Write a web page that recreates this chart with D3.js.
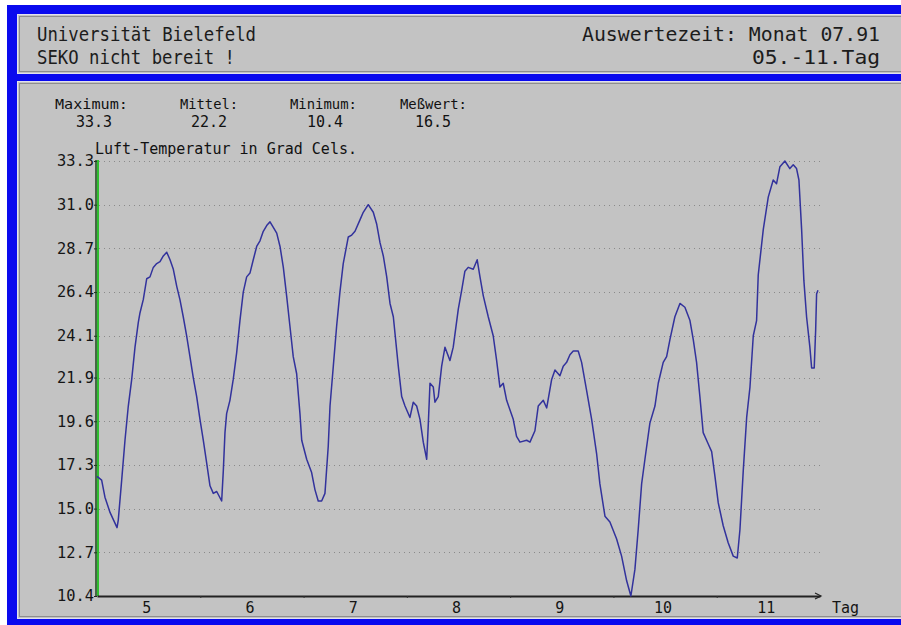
<!DOCTYPE html>
<html>
<head>
<meta charset="utf-8">
<script src="https://cdn.jsdelivr.net/npm/d3@7"></script>
<style>
body { margin: 0; background: #fff; }
</style>
</head>
<body>
<div id="chart"></div>
<script>
/* Luft-Temperatur, Monat 07.91, Tag 05. bis 11.
   Werte vom Bildschirm abgelesen (Zeit in Tagen, Temperatur in Grad C) */
var tage = [
	5.000, 5.045, 5.077, 5.126, 5.194, 5.206, 5.239, 5.271, 5.303, 5.336,
	5.368, 5.400, 5.416, 5.448, 5.481, 5.513, 5.545, 5.578, 5.610, 5.642,
	5.675, 5.707, 5.739, 5.772, 5.803, 5.835, 5.868, 5.900, 5.932, 5.965,
	5.997, 6.029, 6.062, 6.094, 6.126, 6.159, 6.207, 6.223, 6.239, 6.255,
	6.287, 6.319, 6.352, 6.384, 6.416, 6.449, 6.481, 6.513, 6.546, 6.578,
	6.610, 6.643, 6.675, 6.707, 6.740, 6.772, 6.804, 6.836, 6.868, 6.900,
	6.933, 6.965, 6.982, 7.030, 7.078, 7.110, 7.142, 7.175, 7.207, 7.239,
	7.256, 7.288, 7.320, 7.352, 7.384, 7.433, 7.466, 7.498, 7.546, 7.578,
	7.626, 7.675, 7.707, 7.740, 7.772, 7.805, 7.837, 7.869, 7.917, 7.950,
	7.982, 8.030, 8.062, 8.095, 8.127, 8.159, 8.192, 8.208, 8.224, 8.256,
	8.272, 8.304, 8.337, 8.369, 8.417, 8.449, 8.498, 8.531, 8.562, 8.594,
	8.643, 8.681, 8.708, 8.740, 8.788, 8.836, 8.869, 8.901, 8.933, 8.966,
	9.030, 9.062, 9.095, 9.160, 9.192, 9.240, 9.272, 9.321, 9.354, 9.402,
	9.434, 9.482, 9.514, 9.547, 9.579, 9.611, 9.659, 9.692, 9.741, 9.789,
	9.837, 9.869, 9.918, 9.966, 10.031, 10.079, 10.128, 10.169, 10.208, 10.240,
	10.273, 10.305, 10.353, 10.402, 10.434, 10.482, 10.515, 10.547, 10.595, 10.644,
	10.692, 10.741, 10.773, 10.805, 10.837, 10.869, 10.918, 10.951, 10.983, 11.015,
	11.063, 11.111, 11.160, 11.199, 11.225, 11.257, 11.290, 11.322, 11.354, 11.386,
	11.402, 11.451, 11.499, 11.547, 11.579, 11.612, 11.660, 11.708, 11.741, 11.773,
	11.796, 11.822, 11.844, 11.870, 11.902, 11.919, 11.944, 11.958, 11.967, 11.980
];
var temperatur = [
	16.7, 16.5, 15.6, 14.8, 14.0, 14.4, 16.5, 18.6, 20.4, 21.8,
	23.5, 24.8, 25.3, 26.0, 27.1, 27.2, 27.7, 27.9, 28.0, 28.3,
	28.5, 28.1, 27.6, 26.7, 26.0, 25.1, 24.1, 23.0, 21.9, 20.9,
	19.7, 18.6, 17.4, 16.2, 15.8, 15.9, 15.4, 17.0, 19.0, 20.0,
	20.7, 21.8, 23.2, 24.9, 26.4, 27.2, 27.4, 28.1, 28.8, 29.1,
	29.6, 29.9, 30.1, 29.8, 29.5, 28.8, 27.7, 26.2, 24.6, 23.0,
	22.1, 20.0, 18.6, 17.6, 16.9, 16.0, 15.4, 15.4, 15.8, 18.3,
	20.4, 22.5, 24.6, 26.4, 27.9, 29.3, 29.4, 29.6, 30.2, 30.6,
	31.0, 30.6, 30.0, 29.0, 28.3, 27.2, 25.8, 25.1, 22.5, 20.9,
	20.4, 19.8, 20.6, 20.4, 19.7, 18.5, 17.6, 19.5, 21.6, 21.4,
	20.6, 20.9, 22.5, 23.5, 22.8, 23.5, 25.5, 26.5, 27.5, 27.7,
	27.6, 28.1, 27.2, 26.2, 25.1, 24.1, 22.8, 21.4, 21.6, 20.7,
	19.7, 18.8, 18.5, 18.6, 18.5, 19.1, 20.4, 20.7, 20.3, 21.8,
	22.3, 22.0, 22.5, 22.7, 23.1, 23.3, 23.3, 22.7, 21.2, 19.7,
	17.9, 16.3, 14.6, 14.3, 13.4, 12.5, 11.2, 10.4, 11.8, 13.9,
	16.3, 17.6, 19.5, 20.4, 21.6, 22.7, 23.0, 23.9, 25.1, 25.8,
	25.6, 24.9, 23.9, 22.7, 20.9, 19.0, 18.4, 18.0, 16.7, 15.3,
	14.1, 13.2, 12.5, 12.4, 13.9, 17.0, 19.8, 21.4, 24.1, 24.9,
	27.3, 29.7, 31.4, 32.3, 32.1, 33.0, 33.3, 32.9, 33.1, 32.9,
	32.3, 29.7, 27.0, 25.1, 23.5, 22.4, 22.4, 24.4, 26.3, 26.5
];

var yTickWerte = [10.4, 12.7, 15.0, 17.3, 19.6, 21.9, 24.1, 26.4, 28.7, 31.0, 33.3];
var tagNummern = [5, 6, 7, 8, 9, 10, 11];
var statTitel = ["Maximum:", "Mittel:", "Minimum:", "Meßwert:"];
var statWerte = ["33.3", "22.2", "10.4", "16.5"];
var kopfLinks = ["Universität Bielefeld", "SEKO nicht bereit !"];
var kopfRechts = ["Auswertezeit: Monat 07.91", "05.-11.Tag"];

var width = 901, height = 625;
var grau = "#c3c3c3";
var blau = "#0a0aee";
var linie = "#32329c";
var mono = "'DejaVu Sans Mono', monospace";

var svg = d3.select("#chart").append("svg")
	.attr("width", width)
	.attr("height", height)
	.style("display", "block");

svg.append("rect").attr("width", width).attr("height", height).attr("fill", "#fff");

/* Fensterrahmen */
svg.append("rect")
	.attr("x", 7).attr("y", 5)
	.attr("width", width).attr("height", height)
	.attr("fill", blau);

function panel(y0, h)
{
	svg.append("rect")
		.attr("x", 17).attr("y", y0)
		.attr("width", width - 17).attr("height", h)
		.attr("fill", "#e2e2ee");
	svg.append("rect")
		.attr("x", 18).attr("y", y0 + 1)
		.attr("width", width - 18).attr("height", h - 2)
		.attr("fill", grau);
	svg.append("rect")
		.attr("x", 19.5).attr("y", y0 + 2.5)
		.attr("width", width).attr("height", h - 5)
		.attr("fill", "none")
		.attr("stroke", "#8e8e8e")
		.attr("stroke-width", 1);
}
panel(14, 60);
panel(81, 538);

/* Kopfzeilen */
var kopfY = [41, 64];
var kopfLinksBreite = [219, 198];
var kopfRechtsBreite = [298, 128];

svg.selectAll(".kopf_links")
	.data(kopfLinks)
  .enter().append("text")
	.attr("class", "kopf_links")
	.attr("x", 37)
	.attr("y", function(d, i) { return kopfY[i]; })
	.attr("font-family", mono)
	.attr("font-size", 19)
	.attr("fill", "#1c1c1c")
	.attr("textLength", function(d, i) { return kopfLinksBreite[i]; })
	.attr("lengthAdjust", "spacingAndGlyphs")
	.text(function(d) { return d; });

svg.selectAll(".kopf_rechts")
	.data(kopfRechts)
  .enter().append("text")
	.attr("class", "kopf_rechts")
	.attr("x", function(d, i) { return 880 - kopfRechtsBreite[i]; })
	.attr("y", function(d, i) { return kopfY[i]; })
	.attr("font-family", mono)
	.attr("font-size", 19)
	.attr("fill", "#1c1c1c")
	.attr("textLength", function(d, i) { return kopfRechtsBreite[i]; })
	.attr("lengthAdjust", "spacingAndGlyphs")
	.text(function(d) { return d; });

/* Statistik */
var statX = [55, 180, 290, 400];
var statTitelBreite = [73, 58, 67, 67];
var statWertMitte = [94, 209, 325, 433];

svg.selectAll(".stat_titel")
	.data(statTitel)
  .enter().append("text")
	.attr("class", "stat_titel")
	.attr("x", function(d, i) { return statX[i]; })
	.attr("y", 109)
	.attr("font-family", mono)
	.attr("font-size", 14)
	.attr("fill", "#111")
	.attr("textLength", function(d, i) { return statTitelBreite[i]; })
	.attr("lengthAdjust", "spacingAndGlyphs")
	.text(function(d) { return d; });

svg.selectAll(".stat_wert")
	.data(statWerte)
  .enter().append("text")
	.attr("class", "stat_wert")
	.attr("x", function(d, i) { return statWertMitte[i]; })
	.attr("y", 127)
	.attr("font-family", mono)
	.attr("font-size", 15)
	.attr("fill", "#111")
	.attr("text-anchor", "middle")
	.text(function(d) { return d; });

/* Diagramm */
var x = d3.scaleLinear().domain([5, 12]).range([97, 820]);
var y = d3.scaleLinear().domain([10.4, 33.3]).range([596, 161]);

svg.append("text")
	.attr("x", 95)
	.attr("y", 154)
	.attr("font-family", mono)
	.attr("font-size", 15)
	.attr("fill", "#111")
	.attr("textLength", 262)
	.attr("lengthAdjust", "spacingAndGlyphs")
	.text("Luft-Temperatur in Grad Cels.");

/* gepunktete Hilfslinien */
svg.selectAll(".gitter")
	.data(yTickWerte)
  .enter().append("line")
	.attr("class", "gitter")
	.attr("x1", x(5) + 2)
	.attr("x2", 824)
	.attr("y1", function(d) { return Math.round(y(d)) + 0.5; })
	.attr("y2", function(d) { return Math.round(y(d)) + 0.5; })
	.attr("stroke", "#8a8a8a")
	.attr("stroke-width", 1)
	.attr("stroke-dasharray", "1,4");

/* y-Achse */
var yAchse = svg.append("g")
	.attr("transform", "translate(" + x(5) + ",0)")
	.call(d3.axisLeft(y)
		.tickValues(yTickWerte)
		.tickFormat(d3.format(".1f"))
		.tickSize(3)
		.tickSizeOuter(0));
yAchse.select(".domain").remove();
yAchse.selectAll(".tick line").attr("stroke", "#222");
yAchse.selectAll(".tick text")
	.attr("x", -3)
	.attr("fill", "#151515")
	.attr("font-family", mono)
	.attr("font-size", 15)
	.attr("textLength", 37)
	.attr("lengthAdjust", "spacingAndGlyphs");

svg.append("line")
	.attr("x1", x(5) - 1).attr("x2", x(5) - 1)
	.attr("y1", y(33.3) - 1).attr("y2", y(10.4))
	.attr("stroke", "#1d4a1d").attr("stroke-width", 1.5);
svg.append("line")
	.attr("x1", x(5) + 1).attr("x2", x(5) + 1)
	.attr("y1", y(33.3) - 1).attr("y2", y(10.4))
	.attr("stroke", "#2fbf2f").attr("stroke-width", 2);

/* x-Achse */
var xAchse = svg.append("g")
	.attr("transform", "translate(0," + y(10.4) + ")")
	.call(d3.axisBottom(x)
		.tickValues(d3.range(6, 12))
		.tickFormat("")
		.tickSize(2)
		.tickSizeOuter(0));
xAchse.select(".domain").attr("stroke", "#222").attr("stroke-width", 2);
xAchse.selectAll(".tick line").attr("stroke", "#333");

svg.append("path")
	.attr("d", "M" + (x(12) - 5) + "," + (y(10.4) - 3) + "L" + (x(12) + 1) + "," + y(10.4) +
		"L" + (x(12) - 5) + "," + (y(10.4) + 3))
	.attr("fill", "none")
	.attr("stroke", "#222")
	.attr("stroke-width", 1.2);

svg.selectAll(".tag_label")
	.data(tagNummern)
  .enter().append("text")
	.attr("class", "tag_label")
	.attr("x", function(d) { return x(d + 0.5) - 2; })
	.attr("y", 613)
	.attr("font-family", mono)
	.attr("font-size", 15)
	.attr("fill", "#151515")
	.attr("text-anchor", "middle")
	.text(function(d) { return d; });

svg.append("text")
	.attr("x", 832)
	.attr("y", 613)
	.attr("font-family", mono)
	.attr("font-size", 15)
	.attr("fill", "#151515")
	.text("Tag");

/* Temperaturkurve */
var punkte = d3.zip(tage, temperatur);
var kurve = d3.line()
	.x(function(d) { return x(d[0]); })
	.y(function(d) { return y(d[1]); });

svg.append("path")
	.datum(punkte)
	.attr("d", kurve)
	.attr("fill", "none")
	.attr("stroke", linie)
	.attr("stroke-width", 1.5)
	.attr("stroke-linejoin", "round");
</script>
</body>
</html>
